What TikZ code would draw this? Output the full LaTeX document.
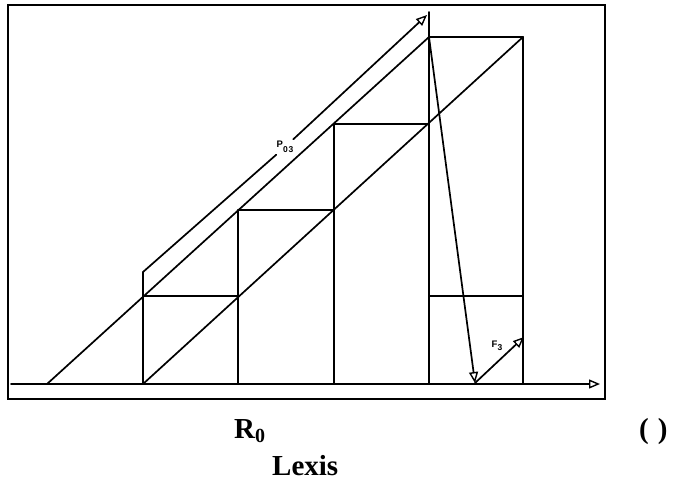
\documentclass[tikz,border=0pt]{standalone}
\usepackage{fontspec}
\setmainfont{Liberation Serif}
\setsansfont{Liberation Sans}
\usetikzlibrary{arrows.meta}
\tikzset{
  ln/.style={line width=1.7pt, line cap=round, line join=round},
  arr/.style={ln, -{Triangle[open, length=11pt, width=9pt, line width=1.4pt]}},
  lbl/.style={font=\sffamily\bfseries\fontsize{9.5}{11}\selectfont, inner sep=1pt},
  captext/.style={font=\bfseries\fontsize{29}{33}\selectfont, inner sep=0pt},
}
\begin{document}
\begin{tikzpicture}[x=1pt, y=-1pt]
\useasboundingbox (0,0) rectangle (674,488);
% frame
\draw[line width=2.6pt] (8,5) rectangle (605,399);
% grid coordinates
\coordinate (a0) at (47,384);
\coordinate (b0) at (143,384); \coordinate (b1) at (143,296); \coordinate (b2) at (143,272);
\coordinate (c0) at (238,384); \coordinate (c1) at (238,296); \coordinate (c2) at (238,210);
\coordinate (d0) at (334,384); \coordinate (d2) at (334,210); \coordinate (d3) at (334,124);
\coordinate (e0) at (429,384); \coordinate (e1) at (429,296); \coordinate (e3) at (429,124); \coordinate (e4) at (429,37); \coordinate (e5) at (429,12);
\coordinate (f0) at (523,384); \coordinate (f1) at (523,296); \coordinate (f4) at (523,37);
\coordinate (ax0) at (11,384); \coordinate (ax1) at (600,384);
\coordinate (ptip) at (427,15);
\coordinate (dtip) at (475,383);
\coordinate (ftip) at (524,337);
% axis
\draw[arr] (ax0) -- (ax1);
% verticals
\draw[ln] (b0) -- (b2);
\draw[ln] (c0) -- (c2);
\draw[ln] (d0) -- (d3);
\draw[ln] (e0) -- (e5);
\draw[ln] (f0) -- (f4);
% horizontals
\draw[ln] (b1) -- (c1);
\draw[ln] (c2) -- (d2);
\draw[ln] (d3) -- (e3);
\draw[ln] (e4) -- (f4);
\draw[ln] (e1) -- (f1);
% diagonals
\draw[ln] (a0) -- (e4);
\draw[ln] (b0) -- (f4);
% P03 arrow with label
\node[lbl, minimum width=21pt, minimum height=15pt] (p) at (285,147) {P\raisebox{-5pt}{\fontsize{8.5}{9}\selectfont 0\kern0.8pt3}};
\draw[ln] (b2) -- (p);
\draw[arr] (p) -- (ptip);
% down arrow
\draw[arr] (e4) -- (dtip);
% F3 arrow
\draw[arr] (dtip) -- (ftip);
\node[lbl] (f) at (497,346) {F\raisebox{-3pt}{\fontsize{8.5}{9}\selectfont 3}};
% captions
\node[captext, anchor=base west] (r) at (234,438) {R\raisebox{-4pt}{\fontsize{20}{22}\selectfont 0}};
\node[captext, anchor=base west] (par) at (639,438) {(\hspace{9pt})};
\node[captext, anchor=base west] (lex) at (272,475) {Lexis};
\end{tikzpicture}
\end{document}
